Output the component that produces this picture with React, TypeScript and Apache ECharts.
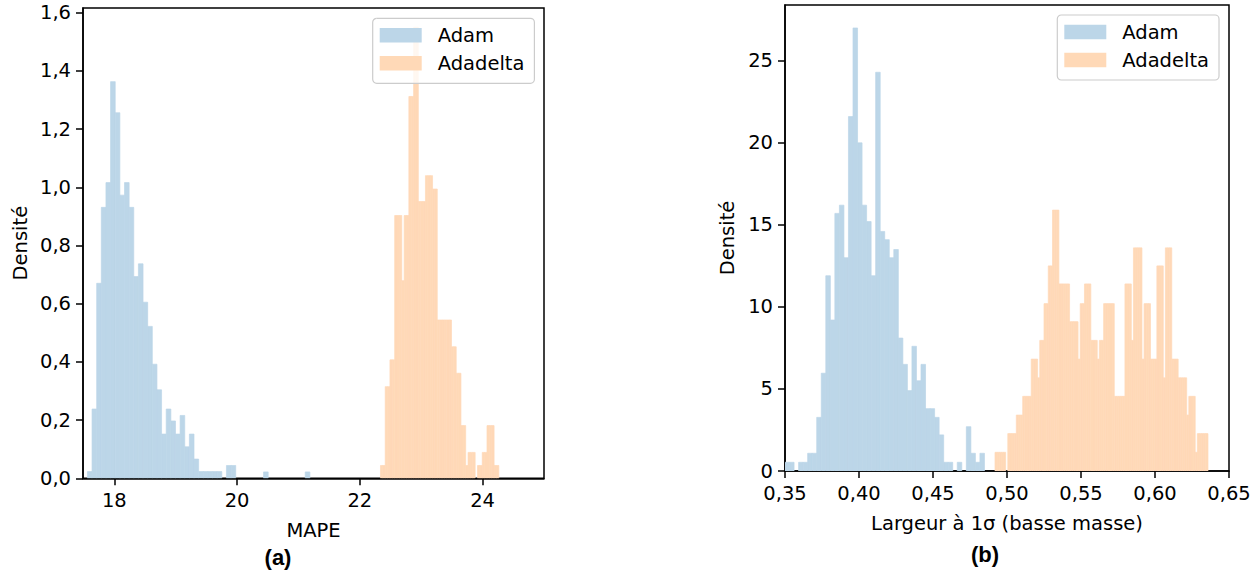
import React, { useEffect, useRef } from "react";
import * as echarts from "echarts";

// ---------- Data (histogram densities) ----------
// Panel (a): MAPE
const adamMapeStart = 17.562;
const adamMapeBin = 0.0755;
const adamMape = [
  0.023, 0.238, 0.67, 0.931, 1.016, 1.363, 1.256, 0.973, 1.016, 0.931,
  0.693, 0.737, 0.605, 0.522, 0.392, 0.304, 0.152, 0.238, 0.197, 0.152,
  0.216, 0.108, 0.152, 0.066, 0.023, 0.023, 0.023, 0.023, 0.023, 0,
  0.044, 0.044, 0, 0, 0, 0, 0, 0, 0.022, 0,
  0, 0, 0, 0, 0, 0, 0, 0.022,
];
const adadeltaMapeStart = 22.336;
const adadeltaMapeBin = 0.03856;
const adadeltaMape = [
  0.044, 0.044, 0.315, 0.315, 0.407, 0.407, 0.903, 0.903, 0.903, 0.679,
  0.903, 0.903, 1.312, 1.312, 1.55, 1.55, 0.951, 0.951, 0.951, 1.04,
  1.04, 1.04, 0.994, 0.994, 0.544, 0.544, 0.544, 0.544, 0.544, 0.544,
  0.452, 0.452, 0.361, 0.361, 0.181, 0.181, 0.044, 0.089, 0.089, 0.089,
  0, 0.044, 0.044, 0.089, 0.089, 0.181, 0.181, 0.181, 0.044, 0.044,
];

// Panel (b): width at 1 sigma (low mass)
const adamWidthStart = 0.35;
const adamWidthBin = 0.003063;
const adamWidth = [
  0.53, 0.53, 0, 0.53, 0.53, 1.08, 1.08, 3.27, 5.96, 11.9,
  9.2, 15.7, 16.2, 13.0, 21.6, 27.0, 20.0, 16.2, 15.2, 11.9,
  24.3, 14.6, 14.1, 13.0, 13.5, 8.1, 6.5, 4.9, 7.6, 5.5,
  6.5, 3.8, 3.8, 3.27, 2.2, 0.53, 0.53, 0, 0.53, 0,
  2.7, 1.08, 0.53, 1.08,
];
const adadeltaWidthStart = 0.4919;
const adadeltaWidthBin = 0.001439;
const adadeltaWidth = [
  1.14, 1.14, 1.14, 1.14, 1.14, 0, 2.28, 2.28, 2.28, 2.28,
  3.41, 3.41, 3.41, 4.55, 4.55, 4.55, 4.55, 6.82, 6.82, 6.82,
  5.68, 7.96, 7.96, 10.2, 10.2, 12.5, 12.5, 15.9, 15.9, 15.9,
  11.4, 11.4, 11.4, 11.4, 11.4, 9.1, 9.1, 9.1, 9.1, 6.82,
  10.2, 10.2, 11.4, 11.4, 11.4, 7.96, 7.96, 7.96, 6.82, 7.96,
  7.96, 10.2, 10.2, 10.2, 10.2, 10.2, 4.55, 4.55, 4.55, 4.55,
  4.55, 11.4, 11.4, 11.4, 7.96, 13.6, 13.6, 13.6, 13.6, 6.82,
  10.2, 10.2, 10.2, 6.82, 6.82, 6.82, 12.5, 12.5, 12.5, 5.68,
  13.6, 13.6, 13.6, 6.82, 6.82, 6.82, 5.68, 5.68, 5.68, 5.68,
  3.41, 4.55, 4.55, 4.55, 1.14, 2.28, 2.28, 2.28, 2.28, 2.28,
];

// Tick labels
const mapeTicks = [18, 20, 22, 24];
const mapeDensityTicks = [0, 0.2, 0.4, 0.6, 0.8, 1.0, 1.2, 1.4, 1.6];
const widthTicks = [0.35, 0.4, 0.45, 0.5, 0.55, 0.6, 0.65];
const widthDensityTicks = [0, 5, 10, 15, 20, 25];

const seriesNames = ["Adam", "Adadelta"];
// matplotlib C0 / C1 at alpha 0.3 over white
const ADAM_COLOR = "#bcd6e8";
const ADADELTA_COLOR = "#ffd9b7";
const FONT = "DejaVu Sans";
const FS = 19.5;

function histData(start: number, bin: number, heights: number[]) {
  return heights.map((h, i) => [start + i * bin, start + (i + 1) * bin, h]);
}

const renderBin = (_params: any, api: any) => {
  const p0 = api.coord([api.value(0), 0]);
  const p1 = api.coord([api.value(1), api.value(2)]);
  const h = p0[1] - p1[1];
  if (h <= 0) return null;
  const st = api.style();
  return {
    type: "rect",
    shape: { x: p0[0], y: p1[1], width: p1[0] - p0[0], height: h },
    style: { ...st, stroke: st.fill, lineWidth: 0.7 },
  };
};

const comma = (v: number, d: number) => v.toFixed(d).replace(".", ",");

const axisLineStyle = { color: "#000", width: 1.5 };
const labelStyle = { fontSize: FS, color: "#000", fontFamily: FONT };

function xAxisDef(gridIndex: number, min: number, max: number, ticks: number[], fmt: (v: number) => string, name: string) {
  return {
    type: "value",
    gridIndex,
    min,
    max,
    name,
    nameLocation: "middle",
    nameGap: 42,
    nameTextStyle: { ...labelStyle },
    axisLine: { show: true, onZero: false, lineStyle: axisLineStyle },
    axisTick: { show: true, inside: false, length: 7, lineStyle: axisLineStyle, customValues: ticks },
    axisLabel: { ...labelStyle, lineHeight: 20, margin: 12, customValues: ticks, formatter: fmt },
    splitLine: { show: false },
  };
}

function yAxisDef(gridIndex: number, max: number, ticks: number[], fmt: (v: number) => string, nameGap: number) {
  return {
    type: "value",
    gridIndex,
    min: 0,
    max,
    name: "Densité",
    nameLocation: "middle",
    nameGap,
    nameRotate: 90,
    nameTextStyle: { ...labelStyle },
    axisLine: { show: true, onZero: false, lineStyle: axisLineStyle },
    axisTick: { show: true, inside: false, length: 7, lineStyle: axisLineStyle, customValues: ticks },
    axisLabel: { ...labelStyle, lineHeight: 18, margin: 12, customValues: ticks, formatter: fmt },
    splitLine: { show: false },
  };
}

function legendDef(left: number, top: number) {
  return {
    left,
    top,
    orient: "vertical",
    data: seriesNames,
    icon: "rect",
    itemWidth: 42,
    itemHeight: 14.5,
    itemGap: 8,
    padding: [7, 10, 10, 7],
    backgroundColor: "rgba(255,255,255,0.8)",
    borderColor: "#cccccc",
    borderWidth: 1.2,
    borderRadius: 4,
    selectedMode: false,
    itemStyle: { borderWidth: 0 },
    textStyle: { ...labelStyle, lineHeight: 20, padding: [0, 0, 0, 11] },
  };
}

function buildOption() {
  return {
    animation: false,
    backgroundColor: "#ffffff",
    grid: [
      { left: 83, top: 8, width: 461, height: 470.3, show: true, borderColor: "#000", borderWidth: 1.5, backgroundColor: "transparent", containLabel: false, outerBoundsMode: "none" },
      { left: 785, top: 5, width: 444, height: 466, show: true, borderColor: "#000", borderWidth: 1.5, backgroundColor: "transparent", containLabel: false, outerBoundsMode: "none" },
    ],
    xAxis: [
      xAxisDef(0, 17.49, 25.0, mapeTicks, (v: number) => String(v), "MAPE"),
      xAxisDef(1, 0.35, 0.65, widthTicks, (v: number) => comma(v, 2), "Largeur à 1σ (basse masse)"),
    ],
    yAxis: [
      yAxisDef(0, 1.616, mapeDensityTicks, (v: number) => comma(v, 1), 53),
      yAxisDef(1, 28.4, widthDensityTicks, (v: number) => String(v), 48),
    ],
    legend: [legendDef(372.7, 18.3), legendDef(1057.3, 15)],
    series: [
      { type: "custom", name: "Adam", xAxisIndex: 0, yAxisIndex: 0, clip: true, renderItem: renderBin, itemStyle: { color: ADAM_COLOR }, encode: { x: [0, 1], y: 2 }, data: histData(adamMapeStart, adamMapeBin, adamMape) },
      { type: "custom", name: "Adadelta", xAxisIndex: 0, yAxisIndex: 0, clip: true, renderItem: renderBin, itemStyle: { color: ADADELTA_COLOR }, encode: { x: [0, 1], y: 2 }, data: histData(adadeltaMapeStart, adadeltaMapeBin, adadeltaMape) },
      { type: "custom", name: "Adam", xAxisIndex: 1, yAxisIndex: 1, clip: true, renderItem: renderBin, itemStyle: { color: ADAM_COLOR }, encode: { x: [0, 1], y: 2 }, data: histData(adamWidthStart, adamWidthBin, adamWidth) },
      { type: "custom", name: "Adadelta", xAxisIndex: 1, yAxisIndex: 1, clip: true, renderItem: renderBin, itemStyle: { color: ADADELTA_COLOR }, encode: { x: [0, 1], y: 2 }, data: histData(adadeltaWidthStart, adadeltaWidthBin, adadeltaWidth) },
    ],
    graphic: [
      { type: "text", x: 278, y: 557, style: { text: "(a)", fontSize: 22, fontWeight: "bold", fontFamily: "Liberation Sans", fill: "#000", align: "center", verticalAlign: "middle" } },
      { type: "text", x: 985, y: 554, style: { text: "(b)", fontSize: 22, fontWeight: "bold", fontFamily: "Liberation Sans", fill: "#000", align: "center", verticalAlign: "middle" } },
    ],
  };
}

export default function App() {
  const ref = useRef<HTMLDivElement>(null);
  useEffect(() => {
    const chart = echarts.init(ref.current as HTMLDivElement, null, { renderer: "svg" });
    chart.setOption(buildOption() as any);
    return () => chart.dispose();
  }, []);
  return (
    <div
      ref={ref}
      style={{ position: "fixed", left: 0, top: 0, width: 1260, height: 573, background: "#fff" }}
    />
  );
}
